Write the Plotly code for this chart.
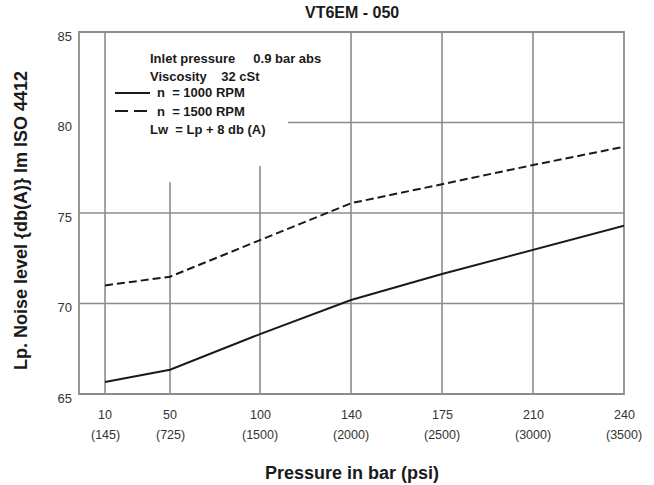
import plotly.graph_objects as go

# ---- data ----
pressure_bar = ["10", "50", "100", "140", "175", "210", "240"]
pressure_psi = ["(145)", "(725)", "(1500)", "(2000)", "(2500)", "(3000)", "(3500)"]
noise_1000 = [65.66, 66.34, 68.31, 70.19, 71.63, 72.96, 74.30]
noise_1500 = [71.00, 71.48, 73.50, 75.54, 76.59, 77.65, 78.66]
y_ticks = [65, 70, 75, 80, 85]

# axis positions of the pressure categories (chart layout, not data)
tick_pos = [0, 0.714, 1.703, 2.703, 3.703, 4.703, 5.703]
X0, X1 = -0.286, 5.703
Y0, Y1 = 65, 85

W, H = 654, 485
ML, MR, MT, MB = 79, 30, 32, 91
PW, PH = W - ML - MR, H - MT - MB


def px(x):
    return (x - ML) / PW


def py(y):
    return (H - MB - y) / PH


FONT = "Liberation Sans, Arial, Helvetica, sans-serif"
GRID = "#8c8c8c"
INK = "#1a1a1a"
NB = "&nbsp;"

fig = go.Figure()
fig.add_trace(go.Scatter(x=tick_pos, y=noise_1000, mode="lines",
                         line=dict(color=INK, width=2), name="n = 1000 RPM",
                         showlegend=False))
fig.add_trace(go.Scatter(x=tick_pos, y=noise_1500, mode="lines",
                         line=dict(color=INK, width=2, dash="8px,4px"),
                         name="n = 1500 RPM", showlegend=False))

shapes = []
# vertical grid lines (partially hidden by the note box in the original)
v_top = [Y1, 76.7, 77.6, Y1, Y1, Y1]
for xp, top in zip(tick_pos[:-1], v_top):
    shapes.append(dict(type="line", xref="x", yref="y", x0=xp, x1=xp, y0=Y0, y1=top,
                       line=dict(color=GRID, width=1.6), layer="below"))
# horizontal grid lines
h_start = {70: X0, 75: X0, 80: 2.01}
for yv, xs in h_start.items():
    shapes.append(dict(type="line", xref="x", yref="y", x0=xs, x1=X1, y0=yv, y1=yv,
                       line=dict(color=GRID, width=1.6), layer="below"))
# frame
shapes.append(dict(type="rect", xref="paper", yref="paper", x0=0, x1=1, y0=0, y1=1,
                   line=dict(color=GRID, width=1.8), layer="below"))
# note samples
shapes.append(dict(type="line", xref="paper", yref="paper", x0=px(115), x1=px(150),
                   y0=py(93), y1=py(93), line=dict(color=INK, width=2)))
shapes.append(dict(type="line", xref="paper", yref="paper", x0=px(115), x1=px(150),
                   y0=py(111), y1=py(111), line=dict(color=INK, width=2, dash="13px,6px")))

annotations = []
notes = [
    ("Inlet pressure" + NB * 4 + " 0.9 bar abs", 148, 59),
    ("Viscosity" + NB * 3 + " 32 cSt", 148, 76),
    ("n" + NB * 2 + "= 1000 RPM", 155, 93),
    ("n" + NB * 2 + "= 1500 RPM", 155, 111),
    ("Lw" + NB + " = Lp + 8 db (A)", 148, 129),
]
for txt, x, y in notes:
    annotations.append(dict(text="<b>%s</b>" % txt,
                            xref="paper", yref="paper", x=px(x), y=py(y),
                            xanchor="left", yanchor="middle", showarrow=False,
                            font=dict(family=FONT, size=13, color=INK)))

for xp, b, p in zip(tick_pos, pressure_bar, pressure_psi):
    annotations.append(dict(text=b, xref="x", yref="paper", x=xp, y=py(415),
                            xanchor="center", yanchor="middle", showarrow=False,
                            font=dict(family=FONT, size=12.5, color="#333333")))
    annotations.append(dict(text=p, xref="x", yref="paper", x=xp, y=py(435),
                            xanchor="center", yanchor="middle", showarrow=False,
                            font=dict(family=FONT, size=12.5, color="#333333")))

annotations.append(dict(text="<b>Pressure in bar (psi)</b>", xref="paper", yref="paper",
                        x=0.5, y=py(473), xanchor="center", yanchor="middle",
                        showarrow=False, font=dict(family=FONT, size=18, color=INK)))
annotations.append(dict(text="<b>Lp. Noise level {db(A)} Im ISO 4412</b>",
                        xref="paper", yref="paper", x=px(21), y=py(221),
                        xanchor="center", yanchor="middle", textangle=-90,
                        showarrow=False, font=dict(family=FONT, size=18, color=INK)))
annotations.append(dict(text="<b>VT6EM - 050</b>", xref="paper", yref="paper",
                        x=0.5, y=py(12.5), xanchor="center", yanchor="middle",
                        showarrow=False, font=dict(family=FONT, size=16, color=INK)))

fig.update_layout(
    width=W, height=H,
    margin=dict(l=ML, r=MR, t=MT, b=MB, pad=0),
    paper_bgcolor="white", plot_bgcolor="white",
    shapes=shapes, annotations=annotations,
    xaxis=dict(range=[X0, X1], showgrid=False, zeroline=False, showticklabels=False,
               ticks="", showline=False, fixedrange=True),
    yaxis=dict(range=[Y0, Y1], tickvals=y_ticks, ticktext=[str(v) for v in y_ticks],
               showgrid=False, zeroline=False, ticks="", showline=False,
               tickfont=dict(family=FONT, size=13, color="#333333"),
               ticklabelstandoff=6, ticklabelshift=4, fixedrange=True),
    showlegend=False,
)

fig.write_html("out.html", config={"displayModeBar": False},
               post_script="document.body.style.margin='0';")
